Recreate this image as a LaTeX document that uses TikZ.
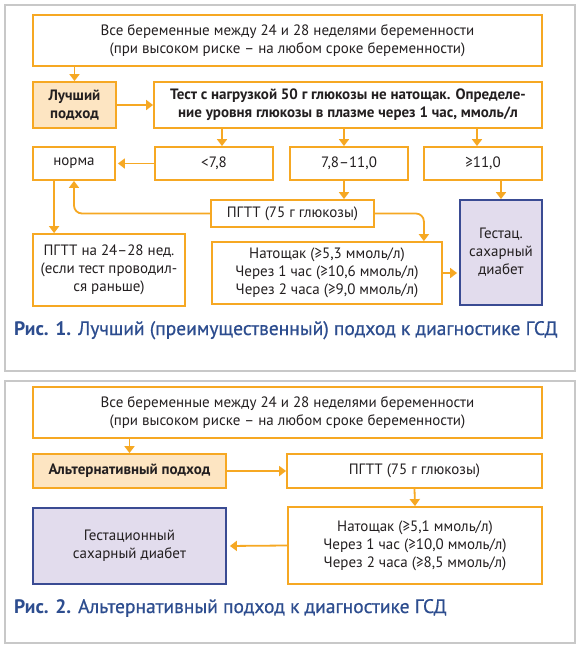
\documentclass[tikz,border=0pt]{standalone}
\usepackage{fontspec}
\setmainfont{PT Sans}
\newfontfamily\capfont{PT Sans}[FakeBold=0.6]
\usetikzlibrary{arrows.meta}
\definecolor{org}{HTML}{F6A823}
\definecolor{lor}{HTML}{FDE5C2}
\definecolor{lav}{HTML}{E2DCED}
\definecolor{gblue}{HTML}{3A4B93}
\definecolor{cblue}{HTML}{2D4D8F}
\definecolor{fgray}{HTML}{C8C8C8}
\definecolor{txt}{HTML}{231F20}
\begin{document}
\begin{tikzpicture}[x=1pt,y=-1pt,
  bodyfont/.style={font=\fontsize{15}{18}\selectfont},
  obox/.style={draw=org, line width=1.8pt, fill=white, align=center, inner sep=0pt, text=txt, bodyfont},
  fbox/.style={obox, fill=lor, font=\bfseries\fontsize{15}{18}\selectfont},
  gbox/.style={obox, draw=gblue, fill=lav},
  arr/.style={draw=org, line width=1.8pt, -{Triangle[width=10pt,length=7pt]}},
  framestyle/.style={draw=fgray, line width=1.6pt},
  capstyle/.style={text=cblue, anchor=base west, inner sep=0pt, font=\fontsize{19.5}{22}\selectfont}]
\useasboundingbox (0,0) rectangle (580,651);
\fill[white] (0,0) rectangle (580,651);
\draw[framestyle] (5,5) rectangle (575,371);
\draw[framestyle] (5,381) rectangle (575,643);

% ---- Panel 1
\node[obox, minimum width=509pt, minimum height=51pt] (top1) at (287.5,40.5)
  {Все беременные между 24 и 28 неделями беременности\\(при высоком риске – на любом сроке беременности)};
\node[fbox, minimum width=83pt, minimum height=46pt] (best) at (74.5,105) {Лучший\\подход};
\node[obox, font=\bfseries\fontsize{15}{18}\selectfont, minimum width=388pt, minimum height=46pt] (test) at (348,105)
  {Тест с нагрузкой 50 г глюкозы не натощак. Определе-\\ние уровня глюкозы в плазме через 1 час, ммоль/л};
\node[obox, minimum width=82pt, minimum height=33pt] (norm) at (74,163.5) {норма};
\node[obox, minimum width=118pt, minimum height=33pt] (lt) at (214,163.5) {<7,8};
\node[obox, minimum width=118pt, minimum height=33pt] (mid) at (349,163.5) {7,8–11,0};
\node[obox, minimum width=118pt, minimum height=33pt] (ge) at (483,163.5) {≥11,0};
\node[obox, minimum width=163pt, minimum height=27pt] (pgtt) at (292.5,213.5) {ПГТТ (75 г глюкозы)};
\node[obox, minimum width=152pt, minimum height=72pt] (pg24) at (109,270)
  {ПГТТ на 24–28 нед.\\(если тест проводил-\\ся раньше)};
\node[obox, minimum width=230pt, minimum height=62pt] (nat1) at (327,273)
  {Натощак (≥5,3 ммоль/л)\\Через 1 час (≥10,6 ммоль/л)\\Через 2 часа (≥9,0 ммоль/л)};
\node[gbox, minimum width=82pt, minimum height=105pt] (gsd1) at (501,252.5)
  {Гестац.\\сахарный\\диабет};

\coordinate (a1) at ([xshift=8pt]lt.north);
\coordinate (a2) at ([xshift=-5pt]mid.south);
\coordinate (a3) at ([xshift=-6pt]ge.north);
\coordinate (a4) at ([xshift=-19pt]nat1.north east);
\coordinate (a5) at ([xshift=22pt]norm.south west);
\coordinate (a6) at ([xshift=-5pt]mid.north);

\draw[arr] (best |- top1.south) -- (best.north);
\draw[arr] (best.east) -- (test.west);
\draw[arr] (a1 |- test.south) -- (a1);
\draw[arr] (a6 |- test.south) -- (a6);
\draw[arr] (a3 |- test.south) -- (a3);
\draw[arr, shorten >=2pt] (lt.west) -- (norm.east);
\draw[arr] (a2) -- (a2 |- pgtt.north);
\draw[arr] (ge.south -| gsd1) -- (gsd1.north);
\draw[arr, rounded corners=8pt] (pgtt.west) -| (norm.south);
\draw[arr, rounded corners=8pt] (pgtt.east) -| (a4);
\draw[arr] (a5) -- (a5 |- pg24.north);
\draw[arr, shorten >=2pt] (nat1.east) -- (gsd1.west |- nat1.east);

\node[capstyle] (cap1) at (14,335) {\textbf{Рис. 1.} {\capfont Лучший (преимущественный) подход к диагностике ГСД}};

% ---- Panel 2
\node[obox, minimum width=509pt, minimum height=51pt] (top2) at (287.5,412.5)
  {Все беременные между 24 и 28 неделями беременности\\(при высоком риске – на любом сроке беременности)};
\node[fbox, minimum width=193pt, minimum height=34pt] (alt) at (129.5,471) {Альтернативный подход};
\node[obox, minimum width=255pt, minimum height=34pt] (pgtt2) at (414.5,471) {ПГТТ (75 г глюкозы)};
\node[obox, minimum width=254pt, minimum height=77pt] (nat2) at (415,545.5)
  {Натощак (≥5,1 ммоль/л)\\Через 1 час (≥10,0 ммоль/л)\\Через 2 часа (≥8,5 ммоль/л)};
\node[gbox, minimum width=193pt, minimum height=76pt] (gsd2) at (129.5,546)
  {Гестационный\\сахарный диабет};

\draw[arr] (alt |- top2.south) -- (alt.north);
\draw[arr] (alt.east) -- (pgtt2.west);
\draw[arr] (pgtt2.south) -- (nat2.north);
\draw[arr, shorten >=3pt] (nat2.west) -- (gsd2.east);

\node[capstyle] (cap2) at (14,613) {\textbf{Рис. 2.} {\capfont Альтернативный подход к диагностике ГСД}};
\end{tikzpicture}
\end{document}
